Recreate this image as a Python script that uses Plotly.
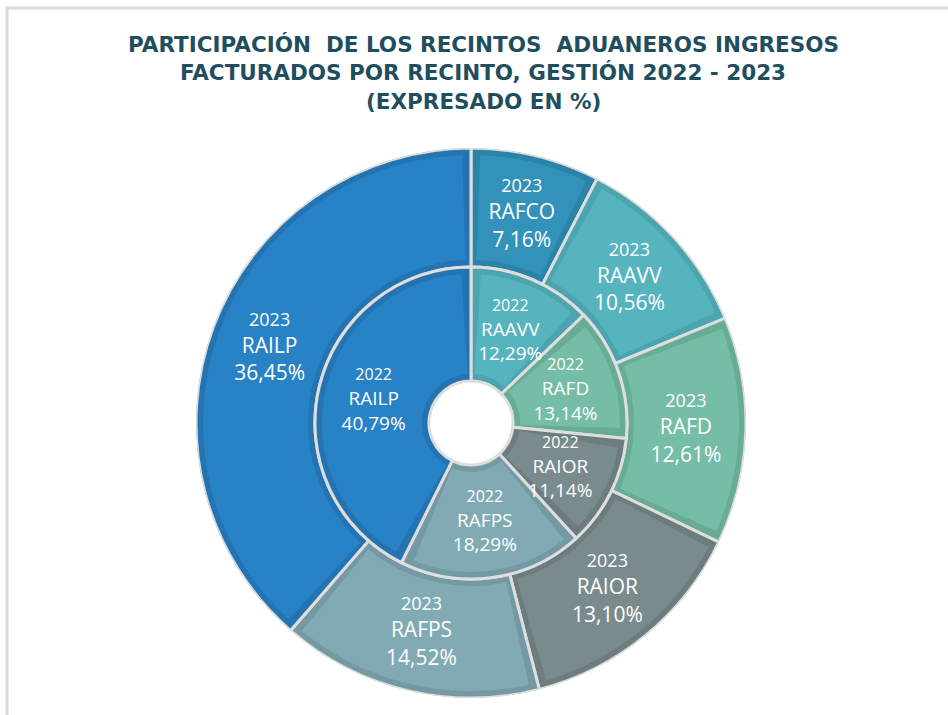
import numpy as np
import plotly.graph_objects as go

# ---------------- data ----------------
outer_year = "2023"
outer_labels = ["RAFCO", "RAAVV", "RAFD", "RAIOR", "RAFPS", "RAILP"]
outer_values = [7.16, 10.56, 12.61, 13.10, 14.52, 36.45]

inner_year = "2022"
inner_labels = ["RAAVV", "RAFD", "RAIOR", "RAFPS", "RAILP"]
inner_values = [12.29, 13.14, 11.14, 18.29, 40.79]

title_lines = ["PARTICIPACIÓN  DE LOS RECINTOS  ADUANEROS INGRESOS",
               "FACTURADOS POR RECINTO, GESTIÓN 2022 - 2023",
               "(EXPRESADO EN %)"]

# ---------------- styles ----------------
fill_colors = {
    "RAILP": "#2882C6", "RAFCO": "#3292BA", "RAAVV": "#56B4BF",
    "RAFD": "#75BDA6", "RAIOR": "#7A8B8D", "RAFPS": "#82AAB4",
}
band_colors = {
    "RAILP": "#2474B2", "RAFCO": "#2B84A8", "RAAVV": "#4CA4AE",
    "RAFD": "#68AC96", "RAIOR": "#6D7D7F", "RAFPS": "#7499A3",
}
SEP = "#DEDEDE"
W, H = 948, 715
CX, CY = 471, 423          # pixel centre of the rings
R_HOLE, R_MID, R_OUT = 42, 156, 275
BAND = 7
FONT = "Open Sans"
TITLE_FONT = "DejaVu Sans"
TITLE_COLOR = "#1F4E5F"


def ring_angles(vals):
    v = np.array(vals, dtype=float)
    widths = v / v.sum() * 360.0
    starts = np.cumsum(widths) - widths
    return starts + widths / 2.0, widths


def fmt(v):
    return f"{v:.2f}".replace(".", ",") + "%"


fig = go.Figure()


def add_ring(labels, vals, year, r0, r1, label_r, inset_deg, ysize, nsize):
    centers, widths = ring_angles(vals)
    fig.add_trace(go.Barpolar(
        theta=centers, width=widths, base=[r0] * len(vals), r=[r1 - r0] * len(vals),
        marker=dict(color=[band_colors[l] for l in labels], line=dict(color=SEP, width=3)),
        hoverinfo="skip", showlegend=False))
    fig.add_trace(go.Barpolar(
        theta=centers, width=widths - 2 * inset_deg,
        base=[r0 + BAND] * len(vals), r=[r1 - r0 - 2 * BAND] * len(vals),
        marker=dict(color=[fill_colors[l] for l in labels], line=dict(width=0)),
        hoverinfo="skip", showlegend=False))
    texts = [f"<span style='font-size:{ysize}px'>{year}</span><br>{l}<br>{fmt(v)}"
             for l, v in zip(labels, vals)]
    fig.add_trace(go.Scatterpolar(
        theta=centers, r=[label_r] * len(vals), mode="text", text=texts,
        textfont=dict(family=FONT, size=nsize, color="white"),
        textposition="middle center", hoverinfo="skip", showlegend=False))


add_ring(outer_labels, outer_values, outer_year, R_MID, R_OUT, 215, 1.9, 18, 21)
add_ring(inner_labels, inner_values, inner_year, R_HOLE, R_MID, 100, 3.8, 16, 19)

dom_x = [(CX - R_OUT) / W, (CX + R_OUT) / W]
dom_y = [(H - CY - R_OUT) / H, (H - CY + R_OUT) / H]

title_y_px = [44, 73, 102]
annotations = [dict(text=t, x=483 / W, y=1 - yp / H, xref="paper", yref="paper",
                    xanchor="center", yanchor="middle", showarrow=False,
                    font=dict(family=TITLE_FONT, size=21.5, color=TITLE_COLOR, weight="bold"))
               for t, yp in zip(title_lines, title_y_px)]

fig.update_layout(
    width=W, height=H,
    margin=dict(l=0, r=0, t=0, b=0),
    paper_bgcolor="white", plot_bgcolor="white",
    annotations=annotations,
    hovermode=False,
    polar=dict(
        domain=dict(x=dom_x, y=dom_y),
        bgcolor="rgba(0,0,0,0)",
        barmode="overlay", bargap=0, hole=0,
        radialaxis=dict(range=[0, R_OUT], visible=False, showgrid=False),
        angularaxis=dict(rotation=90, direction="clockwise", visible=False,
                         showgrid=False, showline=False, ticks=""),
    ),
    shapes=[dict(type="rect", xref="paper", yref="paper",
                 x0=7 / W, x1=1.05, y0=-0.05, y1=1 - 8 / H,
                 line=dict(color="#DADADA", width=3), fillcolor="rgba(0,0,0,0)")],
)

fig.write_html("out.html", config={"displayModeBar": False},
               post_script="document.body.style.margin='0';document.body.style.overflow='hidden';")
